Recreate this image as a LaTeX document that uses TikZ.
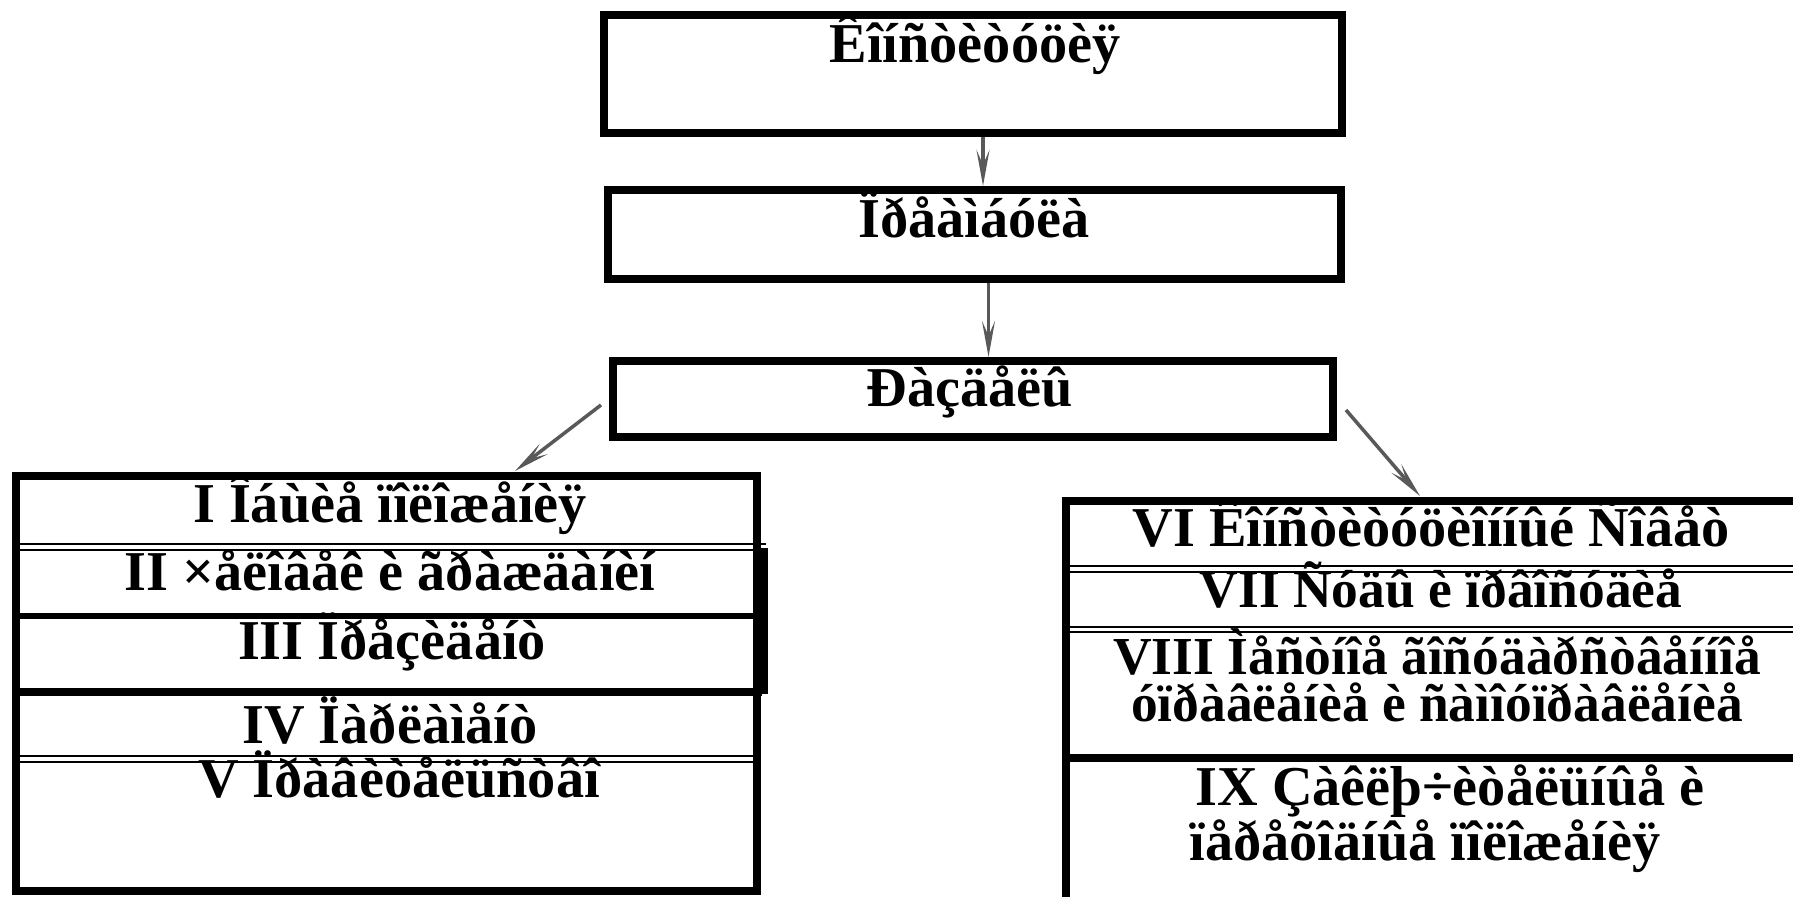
\documentclass[tikz,border=0pt]{standalone}
\usepackage{fontspec}
\setmainfont{Liberation Serif}
\usetikzlibrary{arrows.meta}

\begin{document}
\begin{tikzpicture}[x = 0.01cm, y = -0.01cm, line width = 2pt,
                        box/.style = {draw, line width = 2.3pt, inner sep = 0pt},
                        txt/.style = {anchor = base, inner sep = 0pt, font = \fontsize{16}{18}\selectfont\bfseries},
                        small/.style = {font = \fontsize{15.2}{17}\selectfont\bfseries},
                        twin/.style = {line width = 0.7pt},
                        arr/.style = {draw = black!65, line width = 1pt,
                                      -{Stealth[length = 0.36cm, width = 0.13cm, inset = 0.15cm]}}]
      \useasboundingbox (0, 0) rectangle (1793, 897);
      \clip (0, 0) rectangle (1793, 897);
      \node [box, minimum width = 7.38cm, minimum height = 1.18cm] (kon) at (973, 74){};
      \node [box, minimum width = 7.33cm, minimum height = 0.89cm] (pre) at (974.5, 234.5){};
      \node [box, minimum width = 7.2cm, minimum height = 0.76cm] (raz) at (973, 399){};
      \node [box, minimum width = 7.41cm, minimum height = 4.15cm] (lbox) at (386.5, 683.5){};
      \node [box, minimum width = 7.64cm, minimum height = 4.29cm] (rbox) at (1448, 715.5){};
      \node [txt] (t1) at (975, 63){Êîíñòèòóöèÿ};
      \node [txt] (t2) at (974, 237){Ïðåàìáóëà};
      \node [txt] (t3) at (970, 406){Ðàçäåëû};
      \node [txt] (s1) at (390, 522){I Îáùèå ïîëîæåíèÿ};
      \node [txt] (s2) at (390, 590){II ×åëîâåê è ãðàæäàíèí};
      \node [txt] (s3) at (392, 659){III Ïðåçèäåíò};
      \node [txt] (s4) at (390, 743){IV Ïàðëàìåíò};
      \node [txt] (s5) at (399, 797){V Ïðàâèòåëüñòâî};
      \node [txt] (s6) at (1431, 546){VI Êîíñòèòóöèîííûé Ñîâåò};
      \node [txt, small] (s7) at (1441, 607){VII Ñóäû è ïðâîñóäèå};
      \node [txt, small] (s8a) at (1437, 674){VIII Ìåñòíîå ãîñóäàðñòâåííîå};
      \node [txt, small] (s8b) at (1437, 721){óïðàâëåíèå  è ñàìîóïðàâëåíèå};
      \node [txt] (s9a) at (1450, 805){IX Çàêëþ÷èòåëüíûå è};
      \node [txt] (s9b) at (1425, 860){ïåðåõîäíûå  ïîëîæåíèÿ};
      \draw [twin] (16, 544) -- (766, 544);
      \draw [twin] (16, 550) -- (757, 550);
      \draw [line width = 1.8pt] (16, 616) -- (762, 616);
      \draw [line width = 2.4pt] (16, 692) -- (762, 692);
      \draw [twin] (16, 756) -- (757, 756);
      \draw [twin] (16, 762) -- (757, 762);
      \draw [line width = 3pt] (763, 548) -- (763, 694);
      \draw [twin] (1066, 566) -- (1793, 566);
      \draw [twin] (1066, 572) -- (1793, 572);
      \draw [twin] (1066, 627) -- (1793, 627);
      \draw [twin] (1066, 632) -- (1793, 632);
      \draw [line width = 2.2pt] (1066, 758) -- (1793, 758);
      \coordinate (l0) at (601, 405);
      \coordinate (l1) at (515, 471);
      \coordinate (r0) at (1346, 410);
      \coordinate (r1) at (1420, 496);
      \draw [arr] ([xshift = 0.1cm]kon.south) -- ([xshift = 0.1cm]kon.south |- pre.north);
      \draw [arr] ([xshift = 0.14cm]pre.south) -- ([xshift = 0.14cm]pre.south |- raz.north);
      \draw [arr] (l0) -- (l1);
      \draw [arr] (r0) -- (r1);
    \end{tikzpicture}
\end{document}
